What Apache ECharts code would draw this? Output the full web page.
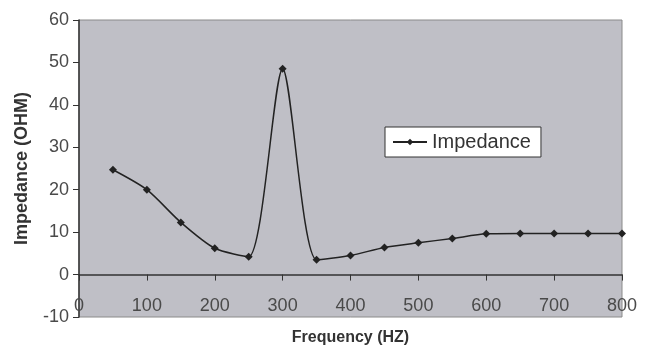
<!DOCTYPE html>
<html>
<head>
<meta charset="utf-8">
<script src="https://cdn.jsdelivr.net/npm/echarts@6/dist/echarts.min.js"></script>
<style>
  html, body { margin: 0; padding: 0; background: #fff; }
  #main { width: 648px; height: 349px; }
</style>
</head>
<body>
<div id="main"></div>
<script>
var frequency = [50, 100, 150, 200, 250, 300, 350, 400, 450, 500, 550, 600, 650, 700, 750, 800];
var impedance = [24.7, 20, 12.3, 6.2, 4.2, 48.5, 3.5, 4.5, 6.4, 7.5, 8.5, 9.6, 9.7, 9.7, 9.7, 9.7];

var chartDom = document.getElementById('main');
var myChart = echarts.init(chartDom);
var option;

var points = frequency.map(function (f, i) { return [f, impedance[i]]; });

option = {
    textStyle: { fontFamily: 'Liberation Sans' },
    legend: {
        data: ['Impedance'],
        left: 385,
        top: 127,
        padding: [5, 10, 5, 7],
        backgroundColor: '#ffffff',
        borderColor: '#333',
        borderWidth: 1,
        borderRadius: 0,
        itemWidth: 34,
        itemHeight: 8,
        itemGap: 6,
        textStyle: { fontSize: 20, color: '#333', fontFamily: 'Liberation Sans' }
    },
    grid: {
        left: 79,
        right: 26,
        top: 20,
        bottom: 32,
        outerBoundsMode: 'none',
        containLabel: false,
        show: true,
        backgroundColor: '#bfbfc6',
        borderColor: '#8a8a8a',
        borderWidth: 1
    },
    xAxis: {
        type: 'value',
        min: 0,
        max: 800,
        interval: 100,
        name: 'Frequency (HZ)',
        nameLocation: 'middle',
        nameGap: 13,
        nameTextStyle: { fontSize: 16, fontWeight: 'bold', color: '#333' },
        axisLine: { onZero: true, lineStyle: { color: '#333', width: 1.5 } },
        axisTick: { show: true, inside: false, length: 6, lineStyle: { color: '#333' } },
        axisLabel: { margin: -20, fontSize: 18, color: '#4a4a4a' },
        splitLine: { show: false }
    },
    yAxis: {
        type: 'value',
        min: -10,
        max: 60,
        interval: 10,
        name: 'Impedance (OHM)',
        nameLocation: 'middle',
        nameGap: 48,
        nameTextStyle: { fontSize: 18, fontWeight: 'bold', color: '#333' },
        axisLine: { show: true, lineStyle: { color: '#333', width: 1.5 } },
        axisTick: { show: true, length: 6, lineStyle: { color: '#333' } },
        axisLabel: { margin: 10, fontSize: 18, color: '#4a4a4a' },
        splitLine: { show: false }
    },
    series: [
        {
            name: 'Impedance',
            type: 'line',
            smooth: 0.25,
            symbol: 'diamond',
            symbolSize: 8,
            itemStyle: { color: '#222' },
            lineStyle: { color: '#222', width: 1.5 },
            data: points
        }
    ]
};

option && myChart.setOption(option);
</script>
</body>
</html>
